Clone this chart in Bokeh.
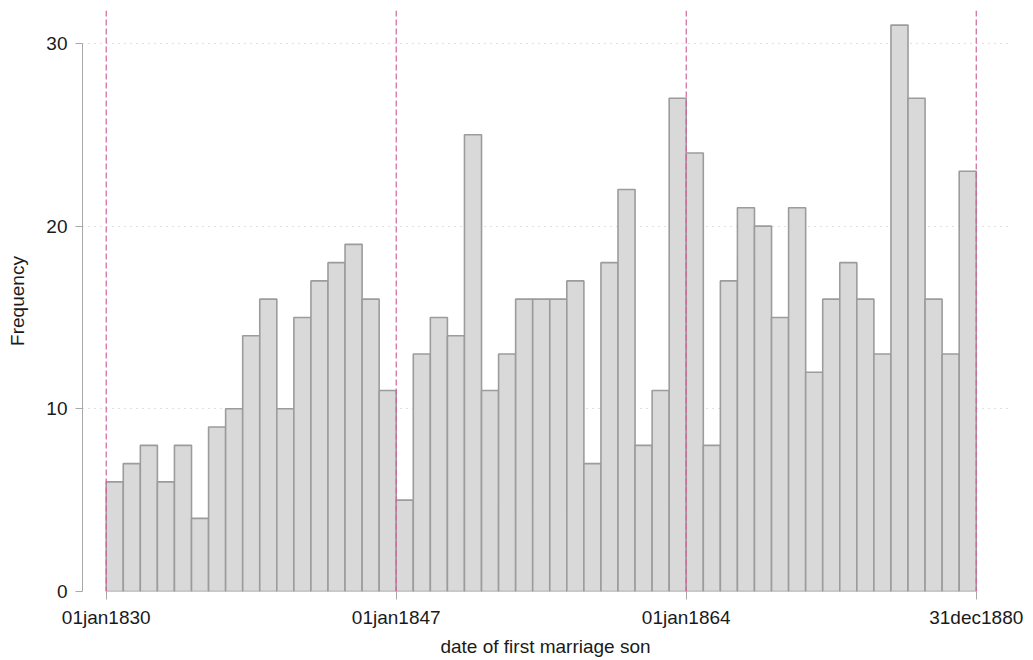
from bokeh.plotting import figure
from bokeh.models import Range1d, FixedTicker, Span
from bokeh.embed import file_html
from bokeh.resources import INLINE

# Yearly bins (left edge of each one-year bin) and marriage counts
bin_start = list(range(1830, 1881))
counts = [
    6, 7, 8, 6, 8, 4, 9, 10, 14, 16, 10, 15, 17, 18, 19, 16, 11,
    5, 13, 15, 14, 25, 11, 13, 16, 16, 16, 17, 7, 18, 22, 8, 11, 27,
    24, 8, 17, 21, 20, 15, 21, 12, 16, 18, 16, 13, 31, 27, 16, 13, 23,
]
bin_width = 1.0

# Axis ticks on the date axis and their labels
x_ticks = [1830, 1847, 1864, 1881]
x_tick_labels = ["01jan1830", "01jan1847", "01jan1864", "31dec1880"]
y_ticks = [0, 10, 20, 30]

FONT = "Liberation Sans"
FS = "19px"

p = figure(
    width=1033, height=660,
    output_backend="svg", toolbar_location=None,
    x_range=Range1d(1828.61, 1882.89),
    y_range=Range1d(0, 31.8),
    min_border_left=82, min_border_right=25,
    min_border_top=10, min_border_bottom=69,
)
p.outline_line_color = None
p.background_fill_color = "white"
p.border_fill_color = "white"

# Histogram bars
p.quad(
    left=bin_start,
    right=[b + bin_width for b in bin_start],
    bottom=0, top=counts,
    fill_color="#d9d9d9", line_color="#9c9c9c", line_width=1.6,
)

# Reference lines at the date ticks
for xv in x_ticks:
    p.add_layout(Span(location=xv, dimension="height",
                      line_color="#d0649b", line_width=1.2, line_dash="6 3"))

# Grid
p.xgrid.grid_line_color = None
p.ygrid.grid_line_color = "#c0c0c0"
p.ygrid.grid_line_dash = "1 5"
p.ygrid.grid_line_width = 1

# Y axis
p.yaxis.ticker = FixedTicker(ticks=y_ticks)
p.yaxis.bounds = (0, 30)
p.yaxis.axis_label = "Frequency"
p.yaxis.axis_line_color = "#a8a8a8"
p.yaxis.major_tick_line_color = "#a8a8a8"
p.yaxis.major_tick_out = 7
p.yaxis.major_tick_in = 0
p.yaxis.minor_tick_line_color = None
p.yaxis.major_label_standoff = 8
p.yaxis.axis_label_standoff = 15

# X axis
p.xaxis.ticker = FixedTicker(ticks=x_ticks)
p.xaxis.major_label_overrides = {t: lab for t, lab in zip(x_ticks, x_tick_labels)}
p.xaxis.axis_label = "date of first marriage son"
p.xaxis.axis_line_color = None
p.xaxis.major_tick_line_color = "#a8a8a8"
p.xaxis.major_tick_out = 8
p.xaxis.major_tick_in = 0
p.xaxis.minor_tick_line_color = None
p.xaxis.major_label_standoff = 7
p.xaxis.axis_label_standoff = 5

for ax in (p.xaxis, p.yaxis):
    ax.major_label_text_font = FONT
    ax.major_label_text_font_size = FS
    ax.major_label_text_color = "#1a1a1a"
    ax.axis_label_text_font = FONT
    ax.axis_label_text_font_size = FS
    ax.axis_label_text_font_style = "normal"
    ax.axis_label_text_color = "#1a1a1a"

open("out.html", "w").write(file_html(p, INLINE))
